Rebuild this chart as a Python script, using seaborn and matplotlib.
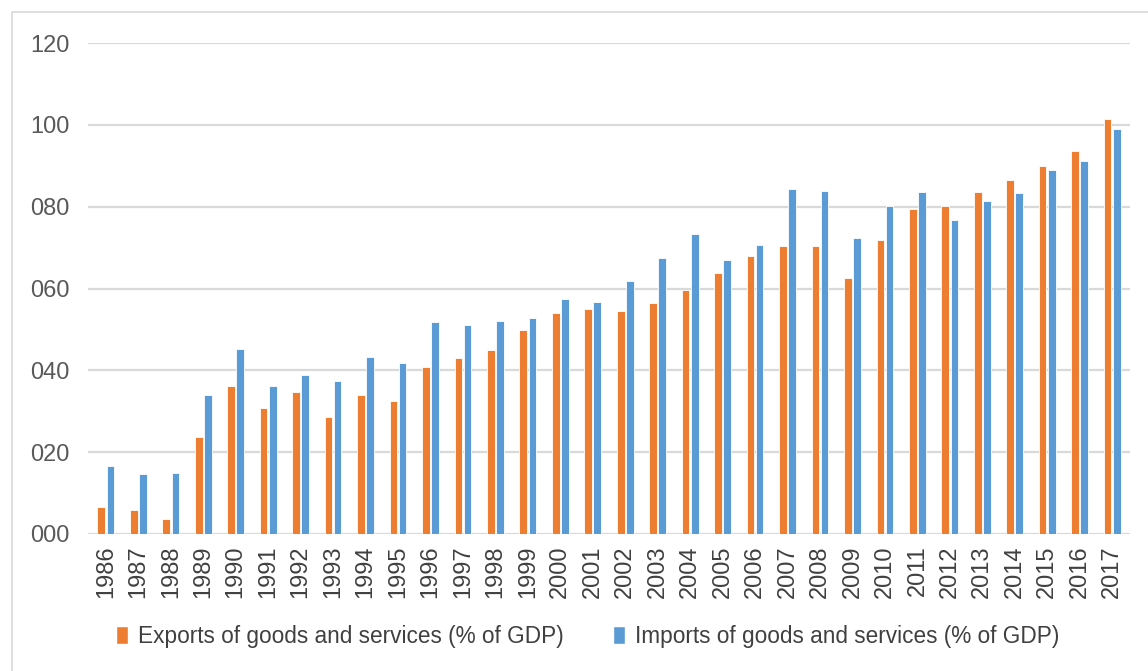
import matplotlib
matplotlib.use("Agg")
import matplotlib.pyplot as plt
import matplotlib.ticker as mticker
from matplotlib.patches import Patch, Rectangle
import seaborn as sns
import pandas as pd

years = [str(y) for y in range(1986, 2018)]
exports = [6.5, 5.8, 3.6, 23.8, 36.1, 30.7, 34.8, 28.5, 33.9, 32.6,
           40.7, 42.9, 44.9, 49.9, 53.9, 54.9, 54.6, 56.4, 59.6, 63.7,
           67.9, 70.3, 70.3, 62.5, 71.9, 79.5, 80.1, 83.6, 86.4, 89.9,
           93.6, 101.4]
imports = [16.5, 14.6, 14.9, 33.9, 45.2, 36.1, 38.9, 37.3, 43.3, 41.7,
           51.7, 51.2, 52.1, 52.7, 57.4, 56.8, 61.8, 67.5, 73.2, 66.9,
           70.6, 84.2, 83.9, 72.3, 80.1, 83.6, 76.7, 81.4, 83.3, 88.9,
           91.1, 98.9]
series_names = ["Exports of goods and services (% of GDP)",
                "Imports of goods and services (% of GDP)"]
colors = ["#ED7D31", "#5B9BD5"]
yticks = [0, 20, 40, 60, 80, 100, 120]

df = pd.DataFrame({
    "year": years * 2,
    "value": exports + imports,
    "series": [series_names[0]] * len(years) + [series_names[1]] * len(years),
})

sns.set_theme(style="white")
plt.rcParams["font.family"] = ["Liberation Sans Narrow", "Liberation Sans", "DejaVu Sans"]

fig = plt.figure(figsize=(11.48, 6.71), dpi=100)
ax = fig.add_axes([88 / 1148, 1 - 534 / 671, (1130 - 88) / 1148, (534 - 43) / 671])

sns.barplot(data=df, x="year", y="value", hue="series", palette=colors,
            saturation=1, width=0.56, gap=0.16, edgecolor="white", linewidth=0.6,
            ax=ax, legend=False)

ax.set_ylim(0, 120)
ax.set_xlim(-0.55, len(years) - 0.45)
ax.set_yticks(yticks)
ax.yaxis.set_major_formatter(mticker.FuncFormatter(lambda v, p: f"{int(v):03d}"))
ax.grid(axis="y", color="#D9D9D9", linewidth=1.6)
ax.set_axisbelow(True)
for s in ax.spines.values():
    s.set_visible(False)
ax.set_xlabel("")
ax.set_ylabel("")
ax.tick_params(axis="y", colors="#595959", labelsize=17, length=0, pad=13)
ax.tick_params(axis="x", colors="#404040", labelsize=17, length=0, pad=8, labelrotation=90)

handles = [Patch(facecolor=c, edgecolor="white") for c in colors]
fig.legend(handles, series_names, loc="center", bbox_to_anchor=(0.512, 1 - 636 / 671),
           ncol=2, frameon=False, fontsize=16.3, labelcolor="#404040",
           handlelength=0.5, handleheight=0.85, handletextpad=0.45, columnspacing=2.2)

fig.patches.append(Rectangle((12 / 1148, -0.01), 1.2, 1 - 12 / 671 + 0.01,
                             transform=fig.transFigure, fill=False,
                             edgecolor="#D9D9D9", linewidth=1.2))

fig.savefig("out.png", dpi=100)
